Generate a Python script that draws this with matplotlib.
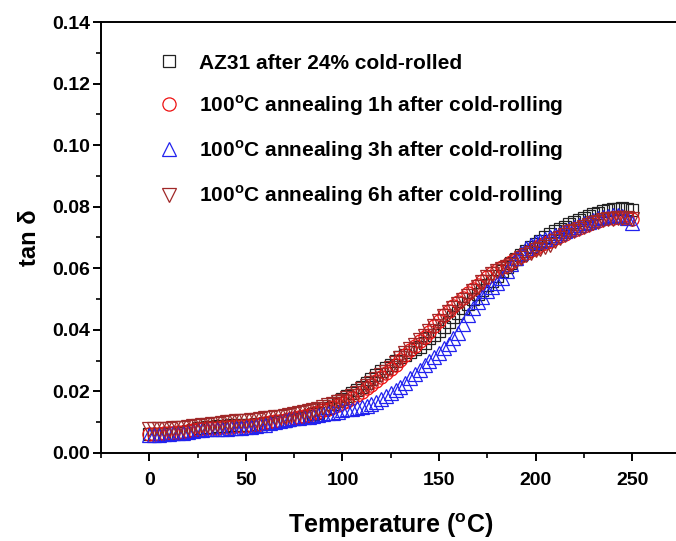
import numpy as np
import matplotlib
matplotlib.use("Agg")
import matplotlib.pyplot as plt
from matplotlib.ticker import MultipleLocator, FormatStrFormatter

plt.rcParams['font.family'] = ['Liberation Sans', 'DejaVu Sans']
plt.rcParams['font.weight'] = 'bold'
plt.rcParams['mathtext.fontset'] = 'custom'
plt.rcParams['mathtext.rm'] = 'Liberation Sans:bold'
plt.rcParams['mathtext.bf'] = 'Liberation Sans:bold'

# temperature grid (deg C), one point every 2.5 deg
temp = np.arange(0, 250.1, 2.5)

az31_rolled = [
    .0062, .0061, .0061, .0062, .0063, .0064, .0065, .0067, .0070, .0075,
    .0080, .0082, .0084, .0085, .0086, .0087, .0088, .0089, .0090, .0090,
    .0091, .0092, .0093, .0095, .0096, .0098, .0100, .0102, .0104, .0107,
    .0110, .0113, .0116, .0120, .0125, .0131, .0138, .0147, .0158, .0167,
    .0175, .0184, .0193, .0204, .0215, .0228, .0240, .0252, .0265, .0276,
    .0287, .0299, .0310, .0319, .0328, .0336, .0345, .0358, .0372, .0384,
    .0395, .0410, .0425, .0440, .0455, .0470, .0485, .0500, .0515, .0530,
    .0545, .0560, .0575, .0590, .0603, .0617, .0630, .0643, .0656, .0668,
    .0680, .0690, .0700, .0710, .0720, .0728, .0735, .0743, .0750, .0757,
    .0763, .0769, .0775, .0780, .0785, .0789, .0792, .0794, .0795, .0793,
    .0790]

anneal_1h = [
    .0062, .0062, .0062, .0063, .0064, .0065, .0067, .0069, .0071, .0074,
    .0077, .0079, .0080, .0081, .0082, .0083, .0084, .0085, .0086, .0087,
    .0088, .0090, .0092, .0094, .0096, .0099, .0102, .0105, .0108, .0111,
    .0114, .0117, .0120, .0124, .0128, .0133, .0138, .0144, .0150, .0156,
    .0162, .0170, .0179, .0189, .0199, .0210, .0221, .0233, .0245, .0258,
    .0272, .0287, .0302, .0318, .0333, .0348, .0363, .0378, .0394, .0412,
    .0430, .0447, .0462, .0476, .0490, .0504, .0518, .0532, .0546, .0560,
    .0573, .0585, .0595, .0604, .0612, .0620, .0630, .0640, .0650, .0659,
    .0667, .0675, .0682, .0690, .0698, .0706, .0713, .0720, .0726, .0732,
    .0738, .0744, .0750, .0755, .0760, .0763, .0765, .0766, .0766, .0764,
    .0760]

anneal_3h = [
    .0058, .0058, .0059, .0060, .0062, .0063, .0065, .0066, .0068, .0071,
    .0073, .0075, .0076, .0077, .0078, .0078, .0079, .0080, .0081, .0081,
    .0083, .0085, .0087, .0090, .0092, .0096, .0100, .0103, .0106, .0109,
    .0112, .0114, .0116, .0118, .0120, .0122, .0125, .0128, .0131, .0134,
    .0138, .0141, .0144, .0147, .0150, .0153, .0158, .0166, .0175, .0184,
    .0194, .0204, .0215, .0228, .0242, .0256, .0270, .0285, .0300, .0312,
    .0325, .0340, .0355, .0372, .0390, .0418, .0448, .0470, .0490, .0508,
    .0525, .0540, .0553, .0568, .0590, .0613, .0633, .0650, .0665, .0677,
    .0684, .0690, .0696, .0701, .0708, .0715, .0722, .0729, .0735, .0741,
    .0746, .0752, .0757, .0764, .0768, .0771, .0772, .0772, .0770, .0762,
    .0748]

anneal_6h = [
    .0078, .0078, .0078, .0078, .0079, .0080, .0081, .0082, .0084, .0086,
    .0088, .0089, .0091, .0093, .0095, .0097, .0099, .0100, .0102, .0103,
    .0104, .0106, .0108, .0110, .0112, .0114, .0116, .0118, .0121, .0124,
    .0127, .0130, .0133, .0136, .0140, .0144, .0149, .0154, .0159, .0164,
    .0169, .0177, .0186, .0196, .0206, .0217, .0228, .0240, .0252, .0264,
    .0277, .0291, .0308, .0323, .0338, .0352, .0367, .0380, .0395, .0413,
    .0430, .0445, .0458, .0470, .0484, .0497, .0510, .0525, .0540, .0556,
    .0570, .0582, .0591, .0598, .0605, .0611, .0622, .0632, .0642, .0651,
    .0658, .0664, .0670, .0677, .0688, .0698, .0708, .0717, .0722, .0728,
    .0734, .0740, .0746, .0752, .0756, .0759, .0760, .0762, .0763, .0762,
    .0760]

labels = [
    'AZ31 after 24% cold-rolled',
    r'100$^{\mathbf{o}}$C annealing 1h after cold-rolling',
    r'100$^{\mathbf{o}}$C annealing 3h after cold-rolling',
    r'100$^{\mathbf{o}}$C annealing 6h after cold-rolling',
]

fig = plt.figure(figsize=(6.76, 5.41), dpi=100)
ax = fig.add_axes([0.1495, 0.163, 0.857, 0.796])

ax.plot(temp, az31_rolled, linestyle='none', marker='s', ms=9, mfc='none',
        mec='#222222', mew=0.9, label=labels[0])
ax.plot(temp, anneal_1h, linestyle='none', marker='o', ms=9.5, mfc='none',
        mec='#ee1111', mew=0.9, label=labels[1])
ax.plot(temp, anneal_3h, linestyle='none', marker='^', ms=10.5, mfc='none',
        mec='#2222ee', mew=0.9, label=labels[2])
ax.plot(temp, anneal_6h, linestyle='none', marker='v', ms=10.5, mfc='none',
        mec='#a02828', mew=0.9, label=labels[3])

ax.set_xlim(-25, 275)
ax.set_ylim(0, 0.14)
ax.xaxis.set_minor_locator(MultipleLocator(25))
ax.yaxis.set_major_locator(MultipleLocator(0.02))
ax.yaxis.set_minor_locator(MultipleLocator(0.01))
ax.yaxis.set_major_formatter(FormatStrFormatter('%.2f'))
ax.set_xticks([0, 50, 100, 150, 200, 250])

ax.tick_params(which='major', direction='out', length=6, width=1.4, labelsize=14)
ax.tick_params(which='minor', direction='out', length=3.5, width=1.2)
ax.tick_params(axis='x', pad=8)
ax.tick_params(axis='y', pad=2)
for s in ax.spines.values():
    s.set_linewidth(1.4)

ax.set_xlabel(r'Temperature ($^{\mathbf{o}}$C)', fontsize=18, fontweight='bold', labelpad=16)
ax.set_ylabel(r'tan δ', fontsize=17, fontweight='bold', labelpad=8)

leg = ax.legend(loc='upper left', bbox_to_anchor=(0.085, 0.946), frameon=False,
                fontsize=15, labelspacing=0.98, handlelength=1.0,
                handletextpad=0.95, borderaxespad=0)

fig.savefig('out.png', dpi=100)
